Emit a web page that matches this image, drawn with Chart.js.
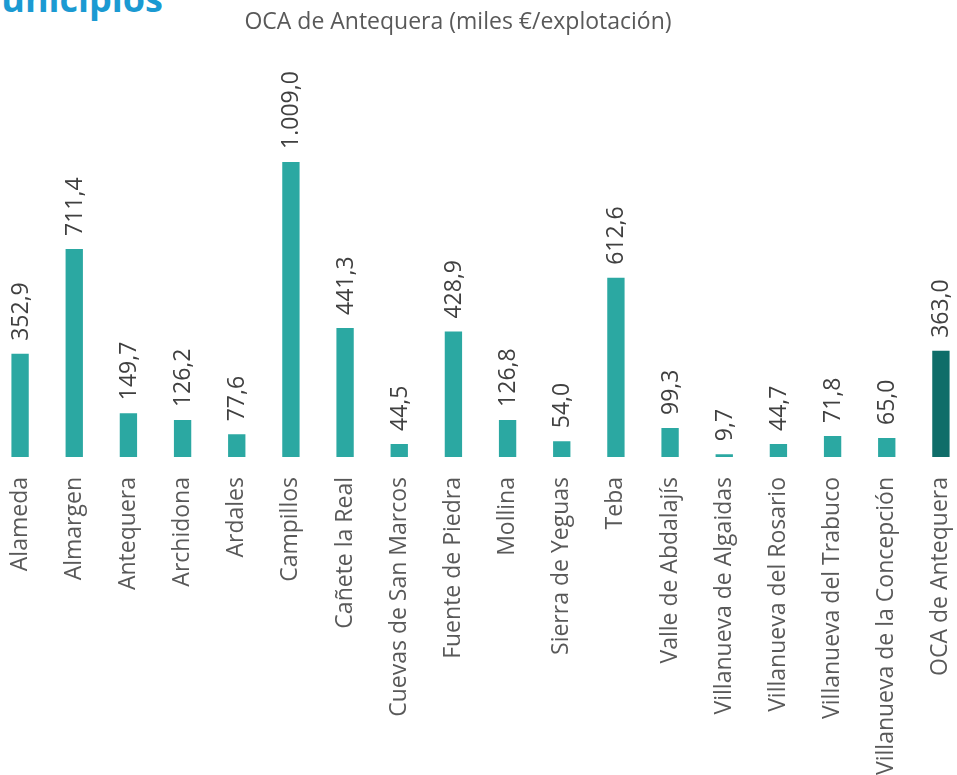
<!DOCTYPE html>
<html>
<head>
<meta charset="utf-8">
<script src="https://cdn.jsdelivr.net/npm/chart.js@4.4.1/dist/chart.umd.min.js"></script>
<style>
  html, body { margin:0; padding:0; width:957px; height:775px; overflow:hidden; background:#ffffff; }
  #heading { position:absolute; right:794px; top:-19px; font-family:"Open Sans", sans-serif; font-weight:700; font-size:36px; line-height:36px; color:#1B9AD2; white-space:nowrap; }
  #c { position:absolute; left:-52px; top:0; }
</style>
</head>
<body>
<div id="heading">Municipios</div>
<canvas id="c" width="1020" height="800"></canvas>
<script>
const chartTitle = 'OCA de Antequera (miles €/explotación)';
const categories = ['Alameda','Almargen','Antequera','Archidona','Ardales','Campillos','Cañete la Real','Cuevas de San Marcos','Fuente de Piedra','Mollina','Sierra de Yeguas','Teba','Valle de Abdalajís','Villanueva de Algaidas','Villanueva del Rosario','Villanueva del Trabuco','Villanueva de la Concepción','OCA de Antequera'];
const values = [352.9, 711.4, 149.7, 126.2, 77.6, 1009.0, 441.3, 44.5, 428.9, 126.8, 54.0, 612.6, 99.3, 9.7, 44.7, 71.8, 65.0, 363.0];
const barColor = '#2BA8A2';
const totalColor = '#0F6D69';

function fmt(v) {
  const parts = v.toFixed(1).split('.');
  const intPart = parts[0].replace(/\B(?=(\d{3})+(?!\d))/g, '.');
  return intPart + ',' + parts[1];
}

const valueLabels = {
  id: 'valueLabels',
  afterDatasetsDraw(chart) {
    const ctx = chart.ctx;
    const meta = chart.getDatasetMeta(0);
    ctx.save();
    ctx.font = '23px "Open Sans"';
    ctx.fillStyle = '#404040';
    ctx.textAlign = 'left';
    ctx.textBaseline = 'middle';
    meta.data.forEach((bar, i) => {
      ctx.save();
      ctx.translate(bar.x + 1, bar.y - 13);
      ctx.rotate(-Math.PI / 2);
      ctx.fillText(fmt(values[i]), 0, 0);
      ctx.restore();
    });
    ctx.restore();
  }
};

new Chart(document.getElementById('c'), {
  type: 'bar',
  data: {
    labels: categories,
    datasets: [{
      data: values,
      backgroundColor: categories.map((c, i) => i === categories.length - 1 ? totalColor : barColor),
      borderWidth: 0,
      barPercentage: 0.32,
      categoryPercentage: 1
    }]
  },
  options: {
    responsive: false,
    devicePixelRatio: 1,
    animation: false,
    layout: { padding: 0 },
    plugins: {
      legend: { display: false },
      tooltip: { enabled: false },
      title: {
        display: true,
        text: chartTitle,
        color: '#595959',
        font: { family: 'Open Sans', size: 23, weight: 'normal', lineHeight: 1.2 },
        padding: { top: 9, bottom: 11 }
      }
    },
    scales: {
      x: {
        grid: { display: false, drawTicks: false },
        border: { display: false },
        ticks: {
          autoSkip: false,
          minRotation: 90,
          maxRotation: 90,
          padding: 20,
          color: '#595959',
          font: { family: 'Open Sans', size: 23 }
        },
        afterFit(scale) {
          scale.height = 343;
          scale.paddingLeft = 0;
          scale.paddingRight = 0;
        }
      },
      y: {
        min: 0,
        max: 1400,
        grid: { display: false, drawTicks: false },
        border: { display: false },
        ticks: { display: false },
        afterFit(scale) { scale.width = 45; }
      }
    }
  },
  plugins: [valueLabels]
});
</script>
</body>
</html>
